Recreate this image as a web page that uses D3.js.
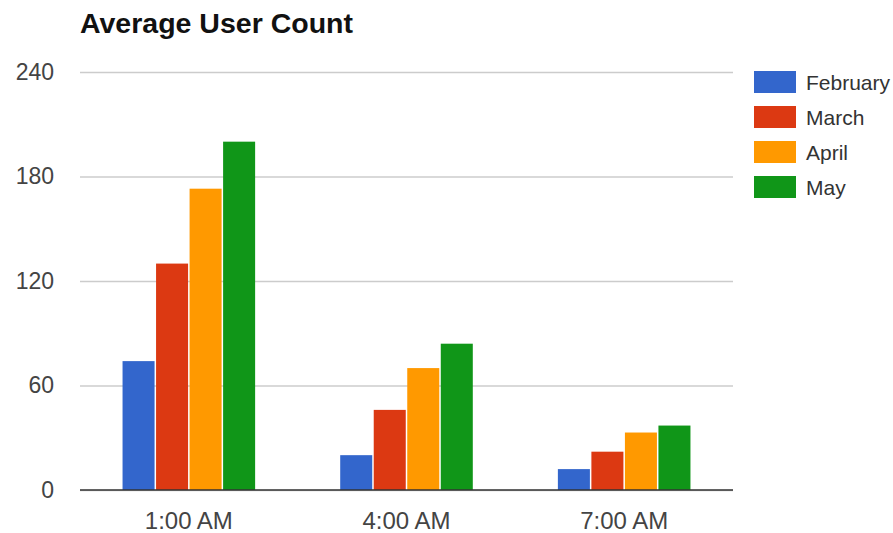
<!DOCTYPE html>
<html>
<head>
<meta charset="utf-8">
<script src="https://cdn.jsdelivr.net/npm/d3@7"></script>
<style>
  body { margin: 0; background: #fff; }
  svg { display: block; font-family: "Liberation Sans", Arial, sans-serif; }
</style>
</head>
<body>
<div id="vis"></div>
<script>
// chart data
var hours = ["1:00 AM", "4:00 AM", "7:00 AM"]
var months = ["February", "March", "April", "May"]
var february = [74, 20, 12]
var march = [130, 46, 22]
var april = [173, 70, 33]
var may = [200, 84, 37]
var yTicks = [0, 60, 120, 180, 240]
var colors = ["#3366cc", "#dc3912", "#ff9900", "#109618"]

var width = 893
var height = 533
var plotLeft = 80, plotRight = 733, plotTop = 72, plotBottom = 490

var series = [february, march, april, may]

var svg = d3.select('#vis').append('svg')
  .attr('width', width)
  .attr('height', height)

// scales
var x0 = d3.scaleBand().domain(hours).range([plotLeft, plotRight])
  .paddingInner(0.384).paddingOuter(0.192)
var x1 = d3.scaleBand().domain(months).range([0, x0.bandwidth()])
var y = d3.scaleLinear().domain([0, 240]).range([plotBottom, plotTop])

// title
svg.append('text')
  .attr('x', 80).attr('y', 33)
  .style('font-size', '28.5px').style('font-weight', 'bold')
  .style('fill', '#111')
  .text('Average User Count')

// gridlines + y labels
var yAxis = d3.axisLeft(y).tickValues(yTicks).tickSize(-(plotRight - plotLeft)).tickPadding(26)
var gy = svg.append('g').attr('transform', 'translate(' + plotLeft + ',0)').call(yAxis)
gy.select('.domain').remove()
gy.selectAll('.tick line').attr('stroke', '#cccccc').attr('stroke-width', 1.5)
gy.selectAll('.tick text')
  .style('font-size', '23px').style('fill', '#444')
  .style('font-family', '"Liberation Sans", Arial, sans-serif')

// bars
var rows = []
hours.forEach(function(h, i){
  months.forEach(function(m, j){
    rows.push({hour: h, month: m, value: series[j][i], color: colors[j]})
  })
})

svg.append('g').selectAll('rect')
  .data(rows)
  .enter()
  .append('rect')
  .attr('x', function(d){ return x0(d.hour) + x1(d.month) + 0.75 })
  .attr('width', x1.bandwidth() - 1.5)
  .attr('y', function(d){ return y(d.value) })
  .attr('height', function(d){ return y(0) - y(d.value) })
  .attr('fill', function(d){ return d.color })

// baseline
svg.append('line')
  .attr('x1', plotLeft).attr('x2', plotRight)
  .attr('y1', y(0)).attr('y2', y(0))
  .attr('stroke', '#333').attr('stroke-width', 1.5)

// x labels
var xAxis = d3.axisBottom(x0).tickSize(0).tickPadding(22)
var gx = svg.append('g').attr('transform', 'translate(0,' + plotBottom + ')').call(xAxis)
gx.select('.domain').remove()
gx.selectAll('.tick text')
  .style('font-size', '24px').style('fill', '#444')
  .style('font-family', '"Liberation Sans", Arial, sans-serif')

// legend
var legend = svg.append('g').selectAll('g')
  .data(months)
  .enter()
  .append('g')
  .attr('transform', function(d, i){ return 'translate(754,' + (71 + i * 35) + ')' })

legend.append('rect')
  .attr('width', 42).attr('height', 22)
  .attr('fill', function(d, i){ return colors[i] })

legend.append('text')
  .attr('x', 52).attr('y', 19)
  .style('font-size', '21px').style('fill', '#333')
  .text(function(d){ return d })
</script>
</body>
</html>
